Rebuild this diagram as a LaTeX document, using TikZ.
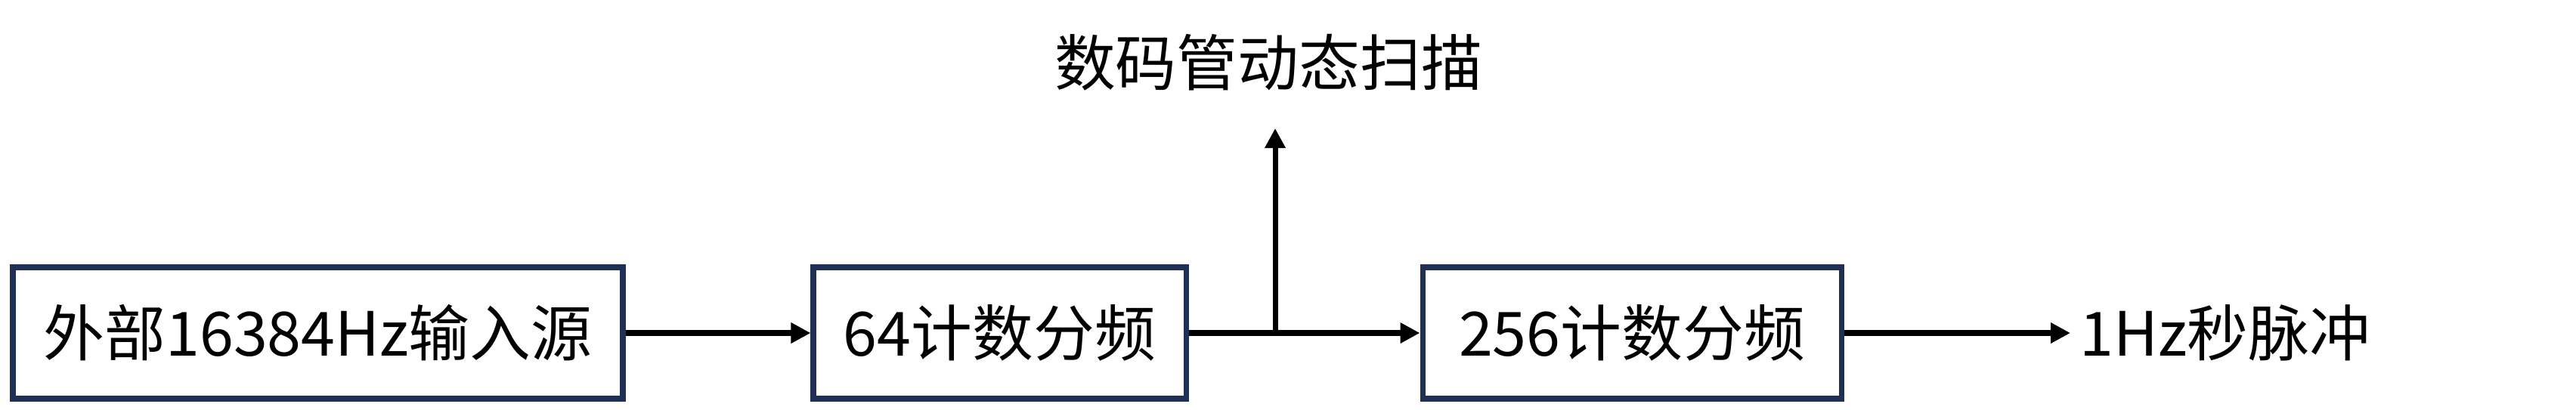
\documentclass[tikz,border=0pt]{standalone}
\usepackage{fontspec}
\setmainfont{Noto Sans CJK SC}
\usetikzlibrary{arrows.meta,positioning}
\definecolor{boxnavy}{RGB}{31,48,84}

\begin{document}
\begin{tikzpicture}[
  lbl/.style={font=\fontsize{23}{26}\selectfont},
  blk/.style={lbl, draw=boxnavy, line width=2pt, minimum height=1.74cm, inner sep=0pt},
  arr/.style={line width=2pt, -{Triangle[length=0.26cm,width=0.26cm]}}
]
\useasboundingbox (0,0) rectangle (34.08,5.42);
% Divider chain
\node[blk, minimum width=8.07cm] (src) at (4.205,1.01) {外部16384Hz输入源};
\node[blk, minimum width=4.93cm] (div64) at (13.225,1.01) {64计数分频};
\node[blk, minimum width=5.54cm] (div256) at (21.59,1.01) {256计数分频};
\node[lbl, anchor=west] (pulse) at (27.39,1.01) {1Hz秒脉冲};
% Scan branch
\node[lbl] (scan) at (16.78,4.59) {数码管动态扫描};
\coordinate (jct) at (16.87,1.01);
\coordinate (scanin) at (16.87,3.72);
% Arrows
\draw[arr] (src) -- (div64);
\draw[arr] (div64) -- (div256);
\draw[arr] (jct) -- (scanin);
\draw[arr] (div256) -- (pulse);
\end{tikzpicture}
\end{document}
